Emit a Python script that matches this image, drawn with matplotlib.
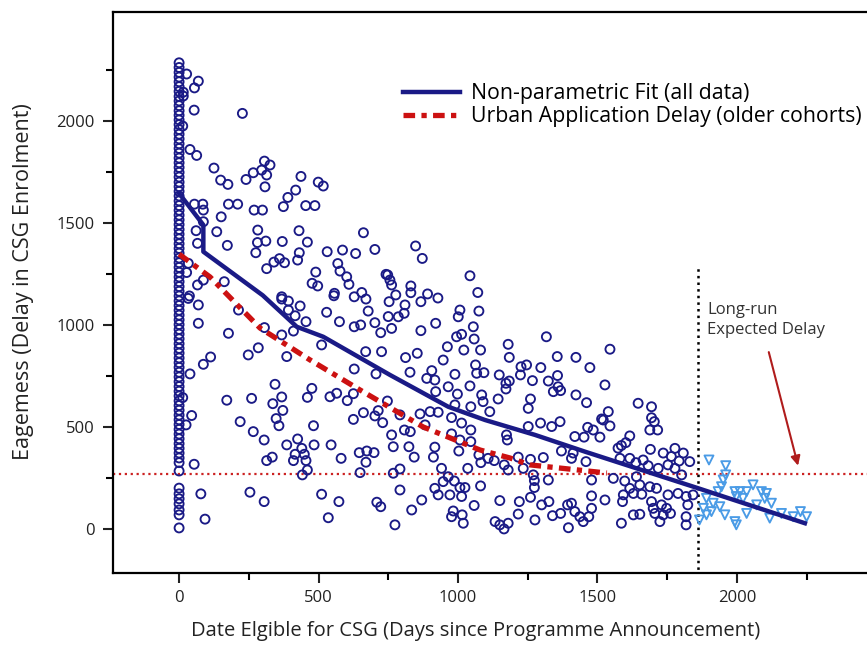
import numpy as np
import matplotlib
matplotlib.use("Agg")
import matplotlib.pyplot as plt

plt.rcParams['font.family'] = ['Open Sans', 'DejaVu Sans']

# points stacked at day 0
col_y = [2285, 2262, 2238, 2215, 2192, 2168, 2145, 2120, 2098, 2075, 2050, 2028, 2005, 1982,
         1958, 1935, 1912, 1888, 1865, 1842, 1818, 1795, 1772, 1748, 1725, 1700, 1678, 1655,
         1632, 1608, 1585, 1562, 1538, 1515, 1492, 1468, 1445, 1422, 1398, 1375, 1352, 1328,
         1305, 1282, 1258, 1235, 1212, 1188, 1165, 1142, 1118, 1095, 1072, 1048, 1025, 1002,
         978, 955, 932, 908, 885, 862, 838, 815, 792, 768, 745, 722, 698, 675, 652, 628, 605,
         582, 558, 535, 512, 488, 465, 442, 418, 395, 372, 348, 325, 284, 200, 172, 148, 123,
         93, 69, 5]

# older cohorts (circles)
circ = [
    (27, 2230), (69, 2195), (55, 2162), (15, 2141), (15, 2122), (54, 2053), (227, 2037), (13, 1975),
    (39, 1860), (63, 1831), (125, 1769), (149, 1710), (175, 1689), (240, 1713), (266, 1746), (296, 1759),
    (306, 1803), (326, 1784), (314, 1735), (308, 1677), (437, 1728), (418, 1661), (390, 1625), (374, 1580),
    (499, 1700), (517, 1681), (454, 1585), (487, 1585), (55, 1592), (85, 1592), (87, 1563), (177, 1592),
    (210, 1592), (269, 1563), (299, 1563), (151, 1530), (87, 1506), (61, 1462), (135, 1457), (282, 1465),
    (430, 1462), (661, 1452), (66, 1400), (173, 1390), (281, 1404), (311, 1411), (275, 1354), (370, 1409),
    (460, 1406), (431, 1354), (425, 1318), (531, 1359), (586, 1367), (633, 1350), (702, 1370), (314, 1276),
    (340, 1308), (360, 1325), (378, 1305), (490, 1259), (477, 1204), (497, 1191), (569, 1301), (577, 1264),
    (601, 1236), (609, 1199), (557, 1155), (655, 1159), (742, 1248), (756, 1220), (162, 1212), (66, 1196),
    (87, 1220), (33, 1302), (27, 1257), (37, 1142), (368, 1138),
    (848, 1387), (872, 1326), (748, 1245), (762, 1196), (777, 1147), (831, 1191), (831, 1158), (891, 1152),
    (1043, 1241), (1071, 1159), (928, 1132),
    (33, 1130), (69, 1098), (69, 1008), (177, 959), (213, 1073), (248, 853), (284, 888), (87, 807),
    (113, 843), (39, 760), (171, 631), (260, 640), (13, 644), (45, 556), (25, 510), (219, 526), (266, 477),
    (305, 436), (344, 709), (368, 647), (336, 614), (372, 581), (348, 541), (358, 506), (476, 689),
    (460, 645), (482, 506), (386, 412), (425, 441), (440, 395), (416, 366), (449, 366), (410, 335),
    (455, 335), (484, 412), (314, 335), (334, 352), (460, 289), (442, 265), (54, 317), (78, 172), (93, 48),
    (254, 180), (305, 134), (511, 170), (573, 134), (535, 55), (545, 412), (581, 346), (646, 374),
    (673, 382), (699, 374), (670, 327), (649, 276), (709, 131), (723, 109), (541, 648), (565, 665),
    (603, 629), (625, 663), (625, 537), (661, 570), (702, 554), (714, 580), (730, 521), (747, 627),
    (628, 784), (706, 760), (669, 869), (726, 869), (386, 845), (511, 902), (410, 970), (455, 1016),
    (368, 951), (306, 987), (416, 1045), (392, 1073), (434, 1093), (392, 1117), (368, 1127), (529, 1062),
    (575, 1016), (628, 991), (651, 1000), (678, 1068), (702, 1011), (723, 962), (750, 1041), (670, 1127),
    (628, 1138), (555, 1143),
    (753, 1114), (786, 1040), (762, 983), (810, 1098), (867, 1114), (807, 1057), (1007, 1073),
    (1001, 1040), (1075, 1068), (920, 1008), (1055, 991), (867, 972), (995, 942), (1013, 954), (1058, 931),
    (962, 893), (1021, 877), (1081, 877), (812, 840), (854, 861), (947, 828), (1180, 905), (1184, 841),
    (1317, 942), (1356, 845), (1423, 841), (1473, 791), (828, 768), (888, 738), (917, 730), (906, 776),
    (989, 758), (1063, 804), (1067, 763), (1093, 766), (1148, 755), (1184, 725), (1226, 795), (1246, 804),
    (1224, 755), (1267, 727), (1297, 791), (1324, 725), (1357, 752), (1359, 697), (1342, 673), (1368, 678),
    (1423, 657), (1461, 619), (920, 673), (965, 697), (998, 661), (1043, 701), (1085, 657), (1090, 624),
    (1144, 637), (1172, 714), (1172, 686), (1260, 637), (1252, 591), (1114, 575), (1046, 599), (989, 608),
    (900, 575), (929, 572), (864, 564), (792, 559), (882, 510), (977, 546), (1013, 519), (1046, 485),
    (977, 466), (1007, 436), (1046, 428), (1174, 461), (1177, 436), (1252, 502), (1296, 519), (1336, 502),
    (1366, 526), (1419, 453), (1452, 450), (1465, 498), (1485, 485), (1509, 450), (1515, 539), (762, 461),
    (829, 477), (808, 485), (768, 403), (824, 403), (843, 352), (912, 352), (917, 401), (1003, 382),
    (1075, 363), (1082, 325), (1108, 346), (1130, 335), (1166, 314), (1180, 289), (1216, 352), (1234, 297),
    (1260, 341), (1270, 265), (1274, 237), (1274, 203), (1306, 350), (1324, 240), (1371, 382), (1407, 346),
    (1413, 372), (1459, 330), (1479, 240), (1479, 162), (941, 297), (1035, 297), (792, 294), (768, 273),
    (792, 191), (870, 142), (834, 93), (774, 20), (917, 199), (947, 232), (965, 256), (987, 235), (929, 167),
    (971, 167), (1007, 203), (1025, 203), (1013, 159), (1058, 115), (983, 88), (977, 60), (1015, 69),
    (1019, 28), (1081, 211), (1150, 139), (1133, 36), (1150, 20), (1165, 0), (1180, 28), (1220, 134),
    (1216, 73), (1260, 155), (1276, 44), (1300, 118), (1326, 134), (1339, 65), (1368, 76), (1393, 118),
    (1407, 126), (1419, 85), (1396, 6), (1437, 60), (1449, 36), (1469, 60), (1479, 101),
    (1545, 881), (1527, 706), (1646, 616), (1694, 599), (1694, 545), (1704, 526), (1688, 485), (1716, 485),
    (1539, 575), (1521, 534), (1545, 505), (1616, 456), (1602, 423), (1586, 409), (1574, 396), (1690, 390),
    (1736, 372), (1778, 395), (1808, 372), (1765, 355), (1793, 333), (1831, 330), (1581, 346), (1616, 346),
    (1638, 325), (1664, 338), (1682, 310), (1718, 297), (1753, 314), (1778, 297), (1802, 265), (1557, 248),
    (1598, 235), (1640, 256), (1652, 216), (1688, 207), (1712, 199), (1616, 199), (1593, 167), (1629, 174),
    (1659, 170), (1527, 142), (1590, 134), (1753, 167), (1789, 174), (1694, 134), (1730, 118), (1748, 101),
    (1700, 101), (1706, 76), (1736, 69), (1762, 76), (1629, 69), (1652, 72), (1724, 36), (1586, 28),
    (1818, 159), (1824, 118), (1818, 60), (1818, 20), (1843, 167),
]

# recent cohorts (triangles)
tri = [
    (1900, 338), (1960, 310), (1960, 265), (1951, 240), (1945, 207), (1933, 183), (2058, 216), (1993, 183),
    (2011, 183), (2035, 183), (2088, 183), (2106, 174), (1998, 159), (2022, 150), (2100, 150), (2124, 126),
    (1891, 150), (1915, 126), (1880, 101), (1891, 69), (1866, 44), (1957, 69), (1993, 36), (1998, 20),
    (2035, 76), (2071, 118), (2118, 53), (2160, 76), (2228, 85), (2250, 60), (2202, 60), (1939, 109),
    (1909, 85),
]

fit_x = [0, 87, 87, 300, 422, 517, 756, 965, 1097, 1276, 1455, 1860, 2244]
fit_y = [1645, 1490, 1359, 1145, 991, 942, 755, 599, 534, 461, 379, 200, 28]

urban_x = [0, 111, 171, 290, 470, 649, 744, 875, 1079, 1186, 1258, 1534]
urban_y = [1347, 1235, 1151, 985, 828, 681, 605, 500, 387, 348, 314, 274]

long_run = 270
cutoff_day = 1860

navy = '#1a1a86'
lightblue = '#4a9be6'

fig = plt.figure(figsize=(8.67, 6.48), dpi=100)
ax = fig.add_axes([113 / 867, 1 - 573 / 648, 1.0 - 113 / 867 + 0.003, 561 / 648])

cx = [p[0] for p in circ] + [0] * len(col_y)
cy = [p[1] for p in circ] + col_y
ax.scatter(cx, cy, s=42, facecolors='none', edgecolors=navy, linewidths=1.35, zorder=3)
ax.scatter([p[0] for p in tri], [p[1] for p in tri], s=42, marker='v',
           facecolors='none', edgecolors=lightblue, linewidths=1.35, zorder=3)

ax.axhline(long_run, color='#cc2222', lw=1.6, ls=':', zorder=2)
ax.plot([cutoff_day, cutoff_day], [-230, 1290], color='black', lw=1.8, ls=':', zorder=2)

ax.plot(fit_x, fit_y, color=navy, lw=3.2, zorder=4, label='Non-parametric Fit (all data)')
ax.plot(urban_x, urban_y, color='#cc1111', lw=3.8, ls=(0, (2.2, 1.2, 1.0, 1.2)), zorder=4,
        label='Urban Application Delay (older cohorts)')

ax.text(1893, 1110, 'Long-run\nExpected Delay', fontsize=12, color='#333333',
        ha='left', va='top', linespacing=1.3)
ax.annotate('', xy=(2222, 297), xytext=(2112, 880),
            arrowprops=dict(arrowstyle='-|>', color='#b01c1c', lw=1.5, mutation_scale=14))

ax.set_xlim(-237, 2476)
ax.set_ylim(-216, 2534)
ax.set_xticks([0, 500, 1000, 1500, 2000])
ax.set_xticks([250, 750, 1250, 1750, 2250], minor=True)
ax.set_yticks([0, 500, 1000, 1500, 2000])
ax.set_yticks([250, 750, 1250, 1750, 2250], minor=True)
ax.tick_params(which='major', direction='out', length=7, width=1.5, labelsize=12, colors='#222222')
ax.tick_params(which='minor', direction='out', length=5, width=1.5)
ax.tick_params(axis='x', pad=5)
ax.tick_params(axis='y', pad=6)
for side in ['left', 'bottom', 'top']:
    ax.spines[side].set_linewidth(1.6)
ax.spines['right'].set_visible(False)

ax.set_xlabel('Date Elgible for CSG (Days since Programme Announcement)', fontsize=14.5, color='#222222')
ax.set_ylabel('Eagemess (Delay in CSG Enrolment)', fontsize=15.5, color='#222222')
ax.xaxis.set_label_coords(0.479, -0.085)
ax.yaxis.set_label_coords(-0.105, 0.52)

ax.legend(loc='upper left', bbox_to_anchor=(0.372, 0.888), frameon=False, fontsize=15.3,
          handlelength=2.7, handletextpad=0.5, labelspacing=0.1, borderaxespad=0)

fig.savefig('out.png', dpi=100)
